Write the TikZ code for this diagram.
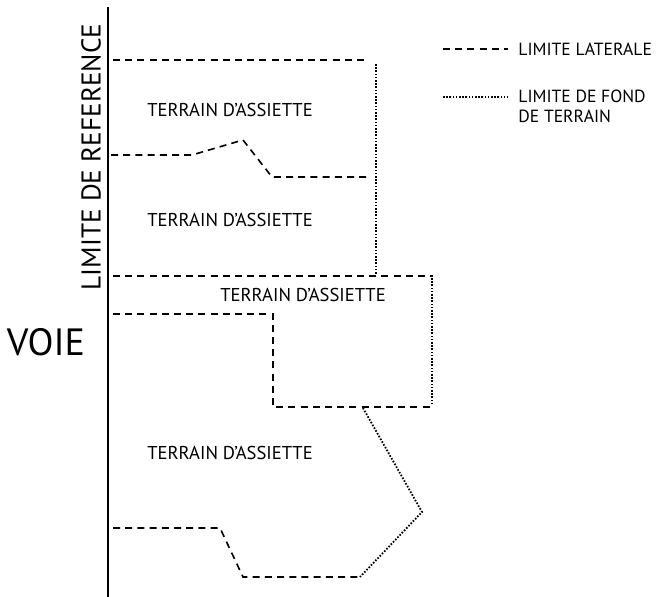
\documentclass[tikz,border=0pt]{standalone}
\usepackage{fontspec}
\setmainfont{PT Sans}
\usetikzlibrary{positioning}
\tikzset{
  lateral/.style={line width=0.8pt, dash pattern=on 3.5pt off 2.6pt},
  fond/.style={line width=0.9pt, dash pattern=on 0.8pt off 0.8pt},
  parcel/.style={font=\fontsize{9.3}{10}\selectfont, inner sep=0pt},
  legend/.style={font=\fontsize{8.8}{9.6}\selectfont, inner sep=0pt, align=left},
}

\begin{document}
\begin{tikzpicture}[x=0.5pt, y=-0.5pt]
    \useasboundingbox (0,0) rectangle (659,597);

    % voie et limite de reference
    \coordinate (reftop) at (108,7);
    \coordinate (refbot) at (108,597);
    \draw[line width=1pt] (reftop) -- (refbot);
    \node[font=\fontsize{13.6}{14}\selectfont, rotate=90, inner sep=0pt] (reflabel) at (91,157) {LIMITE DE REFERENCE};
    \node[font=\fontsize{19}{20}\selectfont, inner sep=0pt] (voie) at (46,342) {VOIE};

    % parcelles
    \node[parcel] (t1) at (230,110) {TERRAIN D'ASSIETTE};
    \node[parcel] (t2) at (230,220) {TERRAIN D'ASSIETTE};
    \node[parcel] (t3) at (303,295) {TERRAIN D'ASSIETTE};
    \node[parcel] (t4) at (230,453) {TERRAIN D'ASSIETTE};

    % limites laterales
    \draw[lateral] (113,60) -- (368,60);
    \draw[lateral] (111,155) -- (192,155) -- (243,140) -- (272,177) -- (370,177);
    \draw[lateral] (113,276) -- (433,276);
    \draw[lateral] (113,314) -- (273,314) -- (273,407) -- (432,407);
    \draw[lateral] (113,528) -- (220,528) -- (243,577) -- (360,577);

    % limites de fond de terrain
    \draw[fond] (376,64) -- (376,274);
    \draw[fond] (432,278) -- (432,405);
    \draw[fond] (363,408) -- (422,512) -- (360,577);

    % legende
    \coordinate (lat1) at (443,49);
    \coordinate (lat2) at (508,49);
    \draw[lateral] (lat1) -- (lat2);
    \node[legend, anchor=west] (latlabel) at (518,49) {LIMITE LATERALE};
    \coordinate (fond1) at (443,97);
    \coordinate (fond2) at (508,97);
    \draw[fond] (fond1) -- (fond2);
    \node[legend, anchor=north west] (fondlabel) at (518,90) {LIMITE DE FOND\\DE TERRAIN};
\end{tikzpicture}
\end{document}
